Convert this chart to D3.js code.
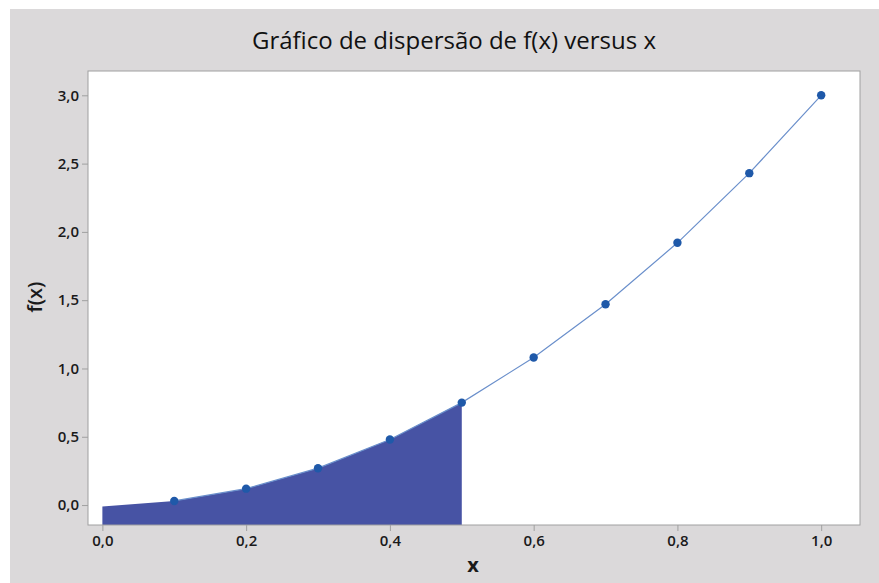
<!doctype html>
<html lang="pt">
<head>
	<meta charset="utf-8">
	<title>Gráfico de dispersão de f(x) versus x</title>
	<script src="https://cdn.jsdelivr.net/npm/d3@7"></script>
	<style>
		body { margin: 0; background: #fff; }
		svg { display: block; font-family: "Open Sans", "Noto Sans", sans-serif; }
	</style>
</head>
<body>
	<svg id="chart" width="879" height="583"></svg>
	<script>
		// pontos do gráfico de dispersão
		var xs = [0.1, 0.2, 0.3, 0.4, 0.5, 0.6, 0.7, 0.8, 0.9, 1.0];
		var fx = [0.03, 0.12, 0.27, 0.48, 0.75, 1.08, 1.47, 1.92, 2.43, 3.0];
		// região sombreada (0 a 0,5)
		var areaX = [0.0, 0.1, 0.2, 0.3, 0.4, 0.5];
		var areaY = [-0.01, 0.03, 0.12, 0.27, 0.48, 0.75];
		var xTicks = [0.0, 0.2, 0.4, 0.6, 0.8, 1.0];
		var yTicks = [0.0, 0.5, 1.0, 1.5, 2.0, 2.5, 3.0];

		var svg = d3.select("#chart");
		var fmt = function(v) { return d3.format(".1f")(v).replace(".", ","); };

		// fundo cinza
		svg.append("rect").attr("x", 10).attr("y", 9).attr("width", 869).attr("height", 574)
			.attr("fill", "#dbd9da");

		var pLeft = 88, pRight = 860, pTop = 71, pBottom = 525;
		var xScale = d3.scaleLinear().domain([-0.02, 1.054]).range([pLeft, pRight]);
		var yScale = d3.scaleLinear().domain([-0.146, 3.178]).range([pBottom, pTop]);

		svg.append("rect").attr("x", pLeft).attr("y", pTop)
			.attr("width", pRight - pLeft).attr("height", pBottom - pTop)
			.attr("fill", "#fff");

		// área
		var areaData = areaX.map(function(x, i) { return {x: x, y: areaY[i]}; });
		var area = d3.area()
			.x(function(d) { return xScale(d.x); })
			.y0(pBottom)
			.y1(function(d) { return yScale(d.y); });
		svg.append("path").attr("d", area(areaData)).attr("fill", "#4753a4");

		// linha
		var pts = xs.map(function(x, i) { return {x: x, y: fx[i]}; });
		var line = d3.line()
			.x(function(d) { return xScale(d.x); })
			.y(function(d) { return yScale(d.y); });
		svg.append("path").attr("d", line(pts))
			.attr("fill", "none").attr("stroke", "#6a8fcb").attr("stroke-width", 1.2);

		svg.selectAll("circle.pt").data(pts).enter().append("circle")
			.attr("class", "pt")
			.attr("cx", function(d) { return xScale(d.x); })
			.attr("cy", function(d) { return yScale(d.y); })
			.attr("r", 4.2)
			.attr("fill", "#1f59a9");

		// moldura
		svg.append("rect").attr("x", pLeft).attr("y", pTop)
			.attr("width", pRight - pLeft).attr("height", pBottom - pTop)
			.attr("fill", "none").attr("stroke", "#a0a0a0").attr("stroke-width", 1);

		// eixos
		var xAxis = d3.axisBottom(xScale).tickValues(xTicks).tickFormat(fmt).tickSize(6).tickPadding(4);
		var gx = svg.append("g").attr("transform", "translate(0," + pBottom + ")").call(xAxis);
		var yAxis = d3.axisLeft(yScale).tickValues(yTicks).tickFormat(fmt).tickSize(6).tickPadding(3);
		var gy = svg.append("g").attr("transform", "translate(" + pLeft + ",0)").call(yAxis);
		[gx, gy].forEach(function(g) {
			g.select(".domain").remove();
			g.selectAll(".tick line").attr("stroke", "#a0a0a0");
			g.selectAll(".tick text").attr("fill", "#1a1a1a")
				.style("font-size", "15px").style("font-weight", "600")
				.style("font-family", "'Open Sans', 'Noto Sans', sans-serif");
		});

		// títulos
		svg.append("text").attr("x", 454).attr("y", 49).attr("text-anchor", "middle")
			.style("font-size", "24px").style("font-weight", "500").attr("fill", "#111")
			.text("Gráfico de dispersão de f(x) versus x");
		svg.append("text").attr("x", 473).attr("y", 572).attr("text-anchor", "middle")
			.style("font-size", "20px").style("font-weight", "700").attr("fill", "#1a1a1a")
			.text("x");
		svg.append("text").attr("transform", "translate(42,297) rotate(-90)").attr("text-anchor", "middle")
			.style("font-size", "20px").style("font-weight", "600").attr("fill", "#1a1a1a")
			.text("f(x)");
	</script>
</body>
</html>
